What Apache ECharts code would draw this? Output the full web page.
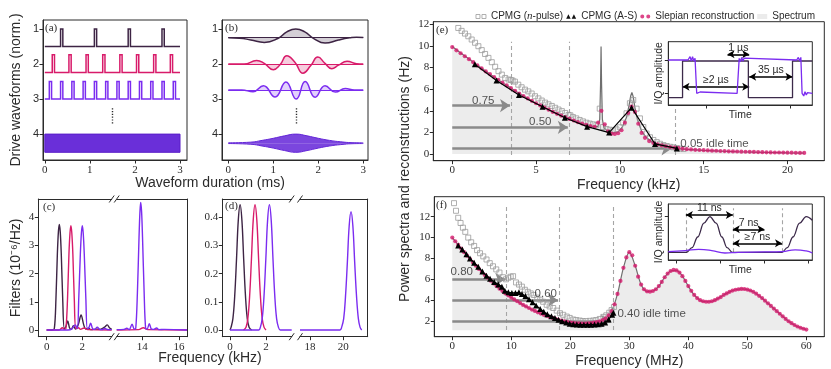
<!DOCTYPE html>
<html>
<head>
<meta charset="utf-8">
<script src="https://cdn.jsdelivr.net/npm/echarts@6/dist/echarts.min.js"></script>
<style>html,body{margin:0;padding:0;background:#fff}#chart{width:831px;height:369px}</style>
</head>
<body>
<div id="chart"></div>
<script>
// ---------- (a) drive pulse trains, times in ms ----------
var pulseTimes1 = [0.375, 1.125, 1.875, 2.625];
var pulseTimes2 = [0.19, 0.56, 0.94, 1.31, 1.69, 2.06, 2.44, 2.81];
var pulseTimes3 = [0.125, 0.375, 0.625, 0.875, 1.125, 1.375, 1.625, 1.875, 2.125, 2.375, 2.625, 2.875];
var pulseLevels = [[1.5, 1.0], [2.24, 1.73], [3.0, 2.5]]; // [base, top] per row
var denseBand = [4.0, 4.52];
var pulseWidth = 0.05;

// ---------- (b) slepian waveforms ----------
var slep1 = [[0,1.25],[0.25,1.26],[0.5,1.31],[0.8,1.38],[1.1,1.27],[1.3,1.08],[1.5,1.0],[1.7,1.08],[1.9,1.27],[2.15,1.4],[2.45,1.31],[2.7,1.25],[2.85,1.23],[3,1.24]];
var slep2 = [[0,2.0],[0.35,2.0],[0.63,1.9],[0.8,1.98],[1.0,2.16],[1.15,2.02],[1.3,1.76],[1.48,1.95],[1.66,2.26],[1.83,2.05],[1.99,1.8],[2.15,1.98],[2.3,2.13],[2.45,2.03],[2.64,1.92],[2.85,1.99],[3,2.0]];
var slep3 = [[0,2.74],[0.3,2.74],[0.55,2.79],[0.78,2.62],[1.04,2.94],[1.28,2.51],[1.51,3.0],[1.71,2.5],[1.93,2.95],[2.15,2.62],[2.38,2.8],[2.6,2.7],[2.8,2.74],[3,2.74]];
var slepBase = [1.24, 2.0, 2.74];
var slep4Upper = [[0,4.25],[0.5,4.23],[0.75,4.18],[1.0,4.12],[1.25,4.05],[1.5,4.0],[1.75,4.05],[2.0,4.12],[2.25,4.18],[2.5,4.22],[2.75,4.245],[3,4.25]];
var slep4Lower = [[0,4.27],[0.5,4.29],[0.75,4.34],[1.0,4.4],[1.25,4.47],[1.5,4.52],[1.75,4.47],[2.0,4.4],[2.25,4.34],[2.5,4.3],[2.75,4.275],[3,4.27]];
var slep4Base = 4.26;

// ---------- (c) CPMG filter functions (1e-6/Hz), kHz ----------
var cDark = [[0,0],[0.3,0],[0.43,0.05],[0.52,1.1],[0.6,2.7],[0.66,3.5],[0.71,3.75],[0.76,3.5],[0.82,2.7],[0.9,1.1],[0.99,0.05],[1.08,0.12],[1.18,0.32],[1.28,0.08],[1.38,0.02],[1.5,0.15],[1.62,0.03],[1.78,0.2],[1.93,0.53],[2.08,0.18],[2.2,0.03],[2.34,0.06],[2.5,0.01],[2.75,0.03],[3.0,0.02],[3.25,0.1],[3.4,0.18],[3.52,0.08],[3.65,0.02]];
var cCrimson = [[0,0],[0.7,0],[0.88,0.08],[1.0,0.02],[1.08,0.05],[1.17,1.1],[1.25,2.7],[1.31,3.45],[1.36,3.7],[1.41,3.45],[1.47,2.7],[1.55,1.1],[1.64,0.05],[1.78,0.08],[1.9,0.02],[2.1,0.07],[2.3,0.01],[3.65,0]];
var cPurple = [[0,0],[1.2,0],[1.4,0.03],[1.6,0.18],[1.72,0.05],[1.8,1.1],[1.89,2.7],[1.95,3.45],[2.0,3.7],[2.05,3.45],[2.11,2.7],[2.2,1.1],[2.28,0.05],[2.37,0.08],[2.47,0.24],[2.58,0.04],[2.7,0.02],[2.84,0.1],[2.97,0.02],[3.1,0.01],[3.27,0.05],[3.45,0.01],[3.65,0.01]];
var cCrimsonHi = [[12.6,0],[13.8,0.01],[14.05,0.08],[14.3,0.01],[16.44,0]];
var cPurpleHi = [[12.6,0.01],[13.0,0.02],[13.15,0.06],[13.28,0.01],[13.44,0.2],[13.56,0.03],[13.64,0.05],[13.73,1.3],[13.82,3.3],[13.87,4.2],[13.91,4.53],[13.96,4.2],[14.01,3.3],[14.1,1.3],[14.18,0.05],[14.26,0.03],[14.38,0.22],[14.5,0.03],[14.62,0.02],[14.78,0.07],[14.9,0.01],[15.2,0.02],[16.44,0]];

// ---------- (d) slepian filter functions ----------
var dDark = [[0,0],[0.06,0.01],[0.16,0.04],[0.26,0.12],[0.36,0.25],[0.46,0.39],[0.56,0.445],[0.66,0.39],[0.76,0.25],[0.86,0.12],[0.96,0.04],[1.06,0.01],[1.2,0]];
var dCrimson = [[0.75,0],[0.89,0.01],[0.99,0.04],[1.09,0.12],[1.19,0.25],[1.29,0.39],[1.39,0.445],[1.49,0.39],[1.59,0.25],[1.69,0.12],[1.79,0.04],[1.89,0.01],[2.0,0]];
var dPurple = [[0,0],[1.6,0],[1.69,0.01],[1.79,0.04],[1.89,0.12],[1.99,0.25],[2.09,0.39],[2.19,0.445],[2.29,0.39],[2.39,0.25],[2.49,0.12],[2.59,0.04],[2.69,0.01],[2.8,0],[3.43,0]];
var dPurpleHi = [[17.4,0],[19.8,0],[19.9,0.01],[20.02,0.04],[20.13,0.12],[20.24,0.24],[20.35,0.37],[20.46,0.42],[20.57,0.37],[20.68,0.24],[20.79,0.12],[20.9,0.04],[21.0,0.01],[21.1,0]];

// ---------- (e) kHz spectrum and reconstructions ----------
var eSpectrum = [[0,9.95],[0.5,9.35],[1,8.8],[1.5,8.22],[2,7.66],[2.5,7.13],[3,6.6],[3.5,6.1],[4,5.6],[4.5,5.15],[5,4.7],[5.5,4.3],[6,3.9],[6.5,3.55],[7,3.25],[7.5,2.95],[8,2.7],[8.4,2.55],[8.7,2.55],[8.8,3.2],[8.85,6.5],[8.88,9.95],[8.91,6.5],[8.96,3.2],[9.05,2.45],[9.3,2.05],[9.6,1.95],[9.9,2.05],[10.15,2.5],[10.4,3.4],[10.55,4.5],[10.65,5.4],[10.72,5.7],[10.8,5.3],[10.9,4.3],[11.05,3.2],[11.3,2.1],[11.6,1.5],[12,1.05],[12.5,0.8],[13,0.63],[13.5,0.5],[14,0.43],[15,0.33],[16,0.26],[17,0.21],[18,0.17],[19,0.14],[20,0.11],[21,0.09]];
var eRecon = [[0,9.9],[0.25,9.6],[0.5,9.33],[0.75,9.05],[1,8.78],[1.25,8.5],[1.5,8.2],[1.75,7.93],[2,7.65],[2.25,7.4],[2.5,7.13],[2.75,6.87],[3,6.6],[3.25,6.35],[3.5,6.1],[3.75,5.85],[4,5.6],[4.25,5.37],[4.5,5.15],[4.75,4.92],[5,4.7],[5.25,4.5],[5.5,4.3],[5.75,4.1],[6,3.9],[6.25,3.72],[6.5,3.55],[6.75,3.4],[7,3.25],[7.25,3.1],[7.5,2.95],[7.75,2.82],[8,2.7],[8.25,2.58],[8.5,2.52],[8.7,2.9],[8.9,4.0],[9.1,2.75],[9.3,2.1],[9.5,1.88],[9.7,1.85],[9.9,1.92],[10.1,2.2],[10.3,2.9],[10.5,3.8],[10.7,4.38],[10.9,3.9],[11.1,2.8],[11.3,1.95],[11.5,1.5],[11.75,1.2],[12,1.02],[12.25,0.9],[12.5,0.8],[12.75,0.72],[13,0.65],[13.25,0.59],[13.5,0.54],[13.75,0.49],[14,0.45],[14.25,0.42],[14.5,0.39],[14.75,0.37],[15,0.35],[15.25,0.33],[15.5,0.31],[15.75,0.3],[16,0.28],[16.25,0.27],[16.5,0.25],[16.75,0.24],[17,0.23],[17.25,0.22],[17.5,0.21],[17.75,0.2],[18,0.19],[18.25,0.18],[18.5,0.17],[18.75,0.16],[19,0.15],[19.25,0.14],[19.5,0.14],[19.75,0.13],[20,0.12],[20.25,0.12],[20.5,0.11],[20.75,0.1],[21,0.1]];
var ePulseCpmg = [[0.36,11.67],[0.56,11.4],[0.76,11.15],[0.96,10.9],[1.16,10.6],[1.36,10.3],[1.56,9.98],[1.76,9.62],[1.96,9.26],[2.16,8.9],[2.36,8.5],[2.56,8.08],[2.76,7.67],[2.96,7.35],[3.16,7.04],[3.36,6.9],[3.5,6.85],[3.6,6.8],[3.74,6.7],[3.94,6.42],[4.14,6.18],[4.34,5.96],[4.54,5.8],[4.74,5.6],[4.94,5.35],[5.14,5.15],[5.34,4.95],[5.54,4.76],[5.74,4.6],[5.94,4.45],[6.14,4.28],[6.34,4.12],[6.54,3.97],[6.74,3.8],[6.94,3.62],[7.05,3.58],[7.2,3.42],[7.4,3.3],[7.6,3.15],[7.8,3.02],[8.0,2.9],[8.2,2.82],[8.4,2.75],[8.6,2.67],[8.8,4.2],[9.0,2.5],[9.2,2.32],[9.4,2.25],[9.6,2.2],[9.8,2.28],[10.0,2.47],[10.2,2.9],[10.4,3.77],[10.6,4.7],[10.8,5.0],[11.0,4.2],[11.2,3.3],[11.4,2.5],[11.6,1.9],[11.8,1.55],[12.0,1.3],[12.2,1.1],[12.4,0.95],[12.6,0.83],[12.8,0.74],[13.0,0.67],[13.2,0.62],[13.4,0.55],[13.6,0.5],[13.8,0.46]];
var eAsCpmg = [[1.35,8.3],[2.64,6.8],[3.98,5.46],[5.39,4.38],[6.72,3.36],[8.05,2.53],[9.36,1.98],[10.7,4.29],[12.1,0.93],[13.4,0.52]];
var eIdleArrows = [[4.48, 3.5], [2.47, 7.0], [0.49, 13.28]];   // [level, end]
var eCuts = [[3.5, -0.1, 10.4], [7.0, -0.1, 10.4], [13.28, -0.1, 4.5]];
var eIdleText = [['0.75', 1.85, 4.95], ['0.50', 5.25, 3.0], ['0.05 idle time', 13.58, 0.93]];

// ---------- (f) MHz spectrum and reconstructions ----------
var fSpectrum = [[0,10.0],[1,9.3],[2,8.6],[3,7.95],[4,7.3],[5,6.7],[6,6.15],[7,5.6],[8,5.1],[9,4.65],[10,4.25],[11,3.9],[12,3.55],[13,3.25],[14,2.97],[15,2.72],[16,2.5],[17,2.3],[18,2.12],[19,1.97],[20,1.86],[21,1.79],[22,1.76],[23,1.77],[24,1.84],[25,1.98],[26,2.27],[27,2.95],[28,4.6],[29,7.1],[30,8.6],[31,7.3],[32,5.5],[33,4.85],[34,4.88],[35,5.35],[36,6.2],[37,6.8],[38,6.85],[39,6.3],[40,5.35],[41,4.5],[42,4.0],[43,3.85],[44,3.9],[45,4.15],[46,4.5],[47,4.8],[48,5.0],[49,5.08],[50,5.02],[51,4.8],[52,4.42],[53,3.95],[54,3.45],[55,2.95],[56,2.45],[57,1.98],[58,1.62],[59,1.36],[60,1.18]];
var fRecon = [[0,10.0],[0.5,9.65],[1,9.3],[1.5,8.95],[2,8.6],[2.5,8.27],[3,7.95],[3.5,7.62],[4,7.3],[4.5,7.0],[5,6.7],[5.5,6.42],[6,6.15],[6.5,5.87],[7,5.6],[7.5,5.35],[8,5.1],[8.5,4.87],[9,4.65],[9.5,4.45],[10,4.25],[10.5,4.07],[11,3.9],[11.5,3.72],[12,3.55],[12.5,3.4],[13,3.25],[13.5,3.1],[14,2.97],[14.5,2.84],[15,2.72],[15.5,2.6],[16,2.5],[16.5,2.4],[17,2.3],[17.5,2.21],[18,2.12],[18.5,2.04],[19,1.97],[19.5,1.91],[20,1.86],[20.5,1.82],[21,1.79],[21.5,1.77],[22,1.76],[22.5,1.76],[23,1.77],[23.5,1.8],[24,1.84],[24.5,1.9],[25,1.98],[25.5,2.1],[26,2.27],[26.5,2.55],[27,2.95],[27.5,3.6],[28,4.6],[28.5,5.85],[29,7.1],[29.5,8.1],[30,8.6],[30.5,8.3],[31,7.3],[31.5,6.25],[32,5.5],[32.5,5.05],[33,4.85],[33.5,4.82],[34,4.88],[34.5,5.05],[35,5.35],[35.5,5.75],[36,6.2],[36.5,6.55],[37,6.8],[37.5,6.9],[38,6.85],[38.5,6.65],[39,6.3],[39.5,5.85],[40,5.35],[40.5,4.9],[41,4.5],[41.5,4.2],[42,4.0],[42.5,3.9],[43,3.85],[43.5,3.85],[44,3.9],[44.5,4.0],[45,4.15],[45.5,4.3],[46,4.5],[46.5,4.65],[47,4.8],[47.5,4.92],[48,5.0],[48.5,5.05],[49,5.08],[49.5,5.07],[50,5.02],[50.5,4.93],[51,4.8],[51.5,4.62],[52,4.42],[52.5,4.2],[53,3.95],[53.5,3.7],[54,3.45],[54.5,3.2],[55,2.95],[55.5,2.7],[56,2.45],[56.5,2.2],[57,1.98],[57.5,1.8],[58,1.62],[58.5,1.48],[59,1.36],[59.5,1.26],[60,1.18]];
var fPulseCpmg = [[0.29,13.3],[0.63,12.57],[1.0,11.9],[1.4,11.4],[1.8,10.95],[2.2,10.55],[2.7,10.0],[3.2,9.55],[3.7,9.2],[4.2,8.8],[4.7,8.5],[5.25,8.2],[5.8,7.9],[6.35,7.55],[6.9,7.25],[7.45,6.95],[8.0,6.65],[8.6,6.2],[9.1,6.0],[9.5,6.15],[9.9,6.25],[10.3,6.3],[10.8,5.7],[11.3,5.5],[11.8,5.3],[12.3,5.0],[12.8,4.8],[13.3,4.65],[13.8,4.5],[14.4,4.25],[14.9,4.05],[15.4,3.85],[16.0,3.56],[16.5,3.4],[17.1,3.25],[17.7,3.0],[18.25,2.75],[18.8,2.6],[19.4,2.43],[19.9,2.3],[20.5,2.15],[21.0,2.1],[21.6,2.05],[22.1,2.0],[22.7,2.0],[23.3,2.02],[23.9,2.05],[24.4,2.1],[25.0,2.2],[25.6,2.4],[26.1,2.55],[26.6,2.8],[27.0,3.05],[27.4,3.35]];
var fAsCpmg = [[1.0,9.25],[1.7,8.85],[2.4,8.4],[3.0,8.0],[3.7,7.6],[4.4,7.2],[5.1,6.75],[5.8,6.35],[6.4,6.05],[7.1,5.75],[7.8,5.5],[8.4,5.3],[8.9,4.9],[9.5,4.75],[10.1,4.7],[10.7,4.7],[11.3,4.75],[11.8,4.6],[12.4,4.4],[13.0,4.1],[13.6,3.8],[14.2,3.5],[14.9,3.15],[15.5,2.9],[16.1,2.65],[16.8,2.45],[17.4,2.3],[18.0,2.12],[18.6,1.98],[19.3,1.85],[19.9,1.75],[20.5,1.7],[21.1,1.67],[21.7,1.65],[22.3,1.65],[22.9,1.65],[23.5,1.65],[24.1,1.67],[24.7,1.7],[25.3,1.75],[25.9,1.85],[26.5,2.15],[27.1,2.6],[27.3,2.8]];
var fIdleArrows = [[6.0, 9.1], [4.0, 18.2], [2.0, 27.3]];
var fCuts = [[9.1, 1.14, 12.96], [18.2, 1.14, 12.96], [27.3, 1.14, 12.96]];
var fIdleText = [['0.80', 1.6, 6.7], ['0.60', 15.85, 4.65], ['0.40 idle time', 27.9, 2.67]];
var fFloor = 1.12;

// ---------- insets ----------
var eInDark = [[0.078,-0.13],[0.42,-0.13],[0.42,0.97],[2.0,0.97],[2.0,-0.13],[3.06,-0.13],[3.06,0.97],[3.535,0.97]];
var eInPurple = [[0.078,1.0],[0.55,1.0],[0.6,1.1],[0.63,0.97],[0.66,1.1],[0.69,0.97],[0.72,1.05],[0.76,0.0],[0.8,-0.06],[0.84,0.04],[0.88,0.0],[1.73,0.0],[1.78,1.05],[1.81,0.95],[1.84,1.08],[1.87,0.97],[1.9,1.06],[1.94,1.0],[3.16,1.0],[3.2,1.08],[3.23,0.97],[3.26,1.08],[3.29,0.0],[3.33,-0.08],[3.36,0.05],[3.39,-0.05],[3.42,0.02],[3.535,0.0]];
var eInBoxes = [[0.42,0.92],[1.5,2.0],[3.04,3.535]];
var eInArrows = [['1 µs', 1.5, 2.02, 1.17], ['35 µs', 2.02, 3.06, 0.5], ['≥2 µs', 0.42, 2.02, 0.2]];
var fInDark = [[0.81,0],[1.227,0],[1.35,0.13],[1.48,0.43],[1.62,0.82],[1.757,1.0],[1.9,0.82],[2.03,0.43],[2.15,0.13],[2.27,0],[3.4,0],[3.52,0.13],[3.65,0.43],[3.8,0.82],[3.95,1.0],[4.09,0.9]];
var fInPurple = [[0.81,0.02],[1.2,0.05],[1.5,0.08],[1.8,0.05],[2.1,-0.02],[2.4,0.0],[3.0,0.01],[3.4,0.02],[3.7,0.07],[3.95,0.04],[4.09,-0.02]];
var fInCuts = [1.21, 2.28, 3.4];
var fInBox = [2.28, 3.0];
var fInArrows = [['11 ns', 1.21, 2.28, 1.05], ['7 ns', 2.28, 3.0, 0.646], ['≥7 ns', 2.28, 3.4, 0.253]];

// ---------- styling ----------
var SERIF = 'Liberation Serif, DejaVu Serif, serif';
var SANS = 'Liberation Sans, Arial, sans-serif';
var INK = '#2b2b2b';
var DARK = '#3d2444', CRIM = '#d81b6a', PURP = '#7b2cf0', DEEP = '#6426d8';
var DOT = '#d4186c', GRAYLINE = '#6f6f6f';

function axis(gi, min, max, ticks, o) {
  o = o || {};
  var a = {
    type: 'value', gridIndex: gi, min: min, max: max, inverse: !!o.inverse,
    axisLine: { show: o.line !== false, onZero: false, lineStyle: { color: INK, width: 1 } },
    axisTick: { show: !!ticks, customValues: ticks || [], length: 3.5, lineStyle: { color: INK, width: 1 } },
    axisLabel: { show: !!ticks && o.labels !== false, customValues: ticks || [], fontFamily: o.labelFont || SERIF,
      fontSize: 11, color: INK, margin: o.margin || 4 },
    splitLine: { show: false }
  };
  if (o.position) a.position = o.position;
  if (o.fmt) a.axisLabel.formatter = o.fmt;
  if (o.name) {
    a.name = o.name; a.nameLocation = 'middle'; a.nameGap = o.nameGap;
    a.nameTextStyle = { fontFamily: SANS, fontSize: o.nameSize || 14, color: INK };
  }
  return a;
}
function frame(l, t, w, h, extra) {
  return Object.assign({ left: l, top: t, width: w, height: h, show: true, borderColor: INK, borderWidth: 1 }, extra || {});
}
function line(gi, data, color, extra) {
  return Object.assign({ type: 'line', xAxisIndex: gi, yAxisIndex: gi, data: data, symbol: 'none', silent: true,
    lineStyle: { color: color, width: 1.4 }, itemStyle: { color: color }, emphasis: { disabled: true } }, extra || {});
}
function seg(x1, y1, x2, y2) { return [{ coord: [x1, y1] }, { coord: [x2, y2] }]; }
function marks(gi, lines, style, extra) {
  return Object.assign({ type: 'line', xAxisIndex: gi, yAxisIndex: gi, data: [], silent: true, clip: false,
    markLine: { silent: true, symbol: 'none', label: { show: false }, lineStyle: style, data: lines, emphasis: { disabled: true } } }, extra || {});
}
function pulseTrain(times, base, top) {
  var pts = [[0, base]];
  times.forEach(function (t) {
    pts.push([t - pulseWidth / 2, base], [t - pulseWidth / 2, top], [t + pulseWidth / 2, top], [t + pulseWidth / 2, base]);
  });
  pts.push([3, base]);
  return pts;
}
function textSeries(gi, items) {
  return { type: 'scatter', xAxisIndex: gi, yAxisIndex: gi, silent: true, symbolSize: 1, z: 20, zlevel: 1,
    itemStyle: { color: 'rgba(0,0,0,0)' },
    data: items.map(function (it) {
      var left = it[0].indexOf('idle') >= 0;
      return { value: [it[1], it[2]], name: it[0],
        label: { show: true, formatter: '{b}', position: left ? 'right' : 'inside', distance: 0, fontFamily: SANS, fontSize: 11.5, color: INK } };
    }) };
}
function idleArrows(gi, arrows) {
  return { type: 'line', xAxisIndex: gi, yAxisIndex: gi, data: [], silent: true, clip: false, z: 4,
    markLine: { silent: true, symbol: ['none', 'arrow'], symbolSize: 10, label: { show: false },
      lineStyle: { color: '#8a8a8a', width: 2.6, type: 'solid' },
      data: arrows.map(function (a) { return seg(0, a[0], a[1] - 0.015 * a[1], a[0]); }) } };
}
function insetArrows(gi, arrows) {
  return { type: 'line', xAxisIndex: gi, yAxisIndex: gi, data: [], silent: true, clip: false, z: 9,
    markLine: { silent: true, symbol: ['arrow', 'arrow'], symbolSize: [6, 7],
      lineStyle: { color: '#000', width: 1.6, type: 'solid' },
      label: { show: true, position: 'insideMiddleTop', distance: 1, formatter: '{b}', fontFamily: SANS, fontSize: 10.5, color: INK },
      data: arrows.map(function (a) { return [{ coord: [a[1], a[3]], name: a[0] }, { coord: [a[2], a[3]] }]; }) } };
}

var grids = [
  frame(43, 20, 144, 140),          // 0 a
  frame(222, 20, 146, 140),         // 1 b
  frame(38.3, 199, 73.4, 137.7, { show: false }), // 2 c left
  frame(116.7, 199, 70.3, 137.7, { show: false }),// 3 c right
  frame(222.3, 199, 69.4, 137.7, { show: false }),// 4 d left
  frame(300, 199, 67.7, 137.7, { show: false }),  // 5 d right
  frame(433.3, 21.7, 391, 139),     // 6 e
  frame(434.3, 196.7, 390, 140),    // 7 f
  frame(668.3, 41.7, 144, 63.3, { backgroundColor: '#fff', z: 5 }), // 8 e inset
  frame(668.3, 204, 144, 56, { backgroundColor: '#fff', z: 5 })     // 9 f inset
];

var xAxes = [
  axis(0, -0.04, 3.155, [0, 1, 2, 3], { margin: 5 }),
  axis(1, -0.14, 3.105, [0, 1, 2, 3], { margin: 5 }),
  axis(2, -0.47, 3.65, [0, 2], { margin: 5 }),
  axis(3, 12.6, 16.44, [14, 16], { margin: 5 }),
  axis(4, -0.43, 3.43, [0, 2], { margin: 5 }),
  axis(5, 17.4, 21.46, [18, 20], { margin: 5 }),
  axis(6, -1.13, 22.2, [0, 5, 10, 15, 20], { name: 'Frequency (kHz)', nameGap: 17 }),
  axis(7, -3.05, 63.05, [0, 10, 20, 30, 40, 50, 60], { name: 'Frequency (MHz)', nameGap: 17 }),
  axis(8, 0.078, 3.535, [1, 2, 3], { labels: false, name: 'Time', nameGap: 5, nameSize: 10.5 }),
  axis(9, 0.81, 4.09, [1, 2, 3, 4], { labels: false, name: 'Time', nameGap: 5, nameSize: 10.5 }),
  axis(2, -0.47, 3.65, null, { position: 'top' }),
  axis(3, 12.6, 16.44, null, { position: 'top' }),
  axis(4, -0.43, 3.43, null, { position: 'top' }),
  axis(5, 17.4, 21.46, null, { position: 'top' })
];
xAxes[8].z = 6; xAxes[9].z = 6;

var yAxes = [
  axis(0, 0.74, 4.74, [1, 2, 3, 4], { inverse: true, labelFont: SANS, name: 'Drive waveforms (norm.)', nameGap: 20 }),
  axis(1, 0.74, 4.74, [1, 2, 3, 4], { inverse: true, labelFont: SANS }),
  axis(2, -0.24, 4.65, [0, 1, 2, 3, 4], { name: 'Filters (10⁻⁶/Hz)', nameGap: 15 }),
  axis(3, -0.24, 4.65, null, { line: false }),
  axis(4, -0.024, 0.465, [0, 0.1, 0.2, 0.3, 0.4], { fmt: function (v) { return v.toFixed(1); } }),
  axis(5, -0.024, 0.465, null, { line: false }),
  axis(6, -0.62, 12.25, [0, 2, 4, 6, 8, 10, 12]),
  axis(7, 0.5, 13.92, [2, 4, 6, 8, 10, 12]),
  axis(8, -0.35, 1.55, [0, 1], { labels: false, name: 'I/Q amplitude', nameGap: 4, nameSize: 10.5 }),
  axis(9, -0.216, 1.357, [1], { labels: false, name: 'I/Q amplitude', nameGap: 4, nameSize: 10.5 }),
  axis(3, -0.24, 4.65, null, { position: 'right' }),
  axis(5, -0.024, 0.465, null, { position: 'right' })
];
yAxes[8].z = 6; yAxes[9].z = 6;

var series = [];

// (a)
[pulseTimes1, pulseTimes2, pulseTimes3].forEach(function (times, i) {
  var c = [DARK, CRIM, PURP][i];
  series.push(line(0, pulseTrain(times, pulseLevels[i][0], pulseLevels[i][1]), c, { lineStyle: { color: c, width: 1.5, join: 'miter' } }));
});
series.push(marks(0, [], {}, { markArea: { silent: true, itemStyle: { color: '#6a2fd9', borderColor: '#5a1ec8', borderWidth: 1 },
  data: [[{ coord: [0, denseBand[0]] }, { coord: [3, denseBand[1]] }]] } }));
series.push(marks(0, [seg(1.5, 3.26, 1.5, 3.73)], { color: INK, width: 1.4, type: [1.2, 1.6] }));

// (b)
[slep1, slep2, slep3].forEach(function (d, i) {
  var c = [DARK, CRIM, PURP][i];
  series.push(line(1, d, c, { smooth: 0.5, lineStyle: { color: c, width: 1.5 },
    areaStyle: { origin: slepBase[i], color: c, opacity: 0.22 } }));
  series.push(marks(1, [seg(0, slepBase[i], 3, slepBase[i])], { color: c, width: 1.2, type: 'solid' }));
});
[slep4Upper, slep4Lower].forEach(function (d) {
  series.push(line(1, d, DEEP, { smooth: 0.5, lineStyle: { color: DEEP, width: 1 },
    areaStyle: { origin: slep4Base, color: DEEP, opacity: 0.85 } }));
});
series.push(marks(1, [seg(1.5, 3.26, 1.5, 3.73)], { color: INK, width: 1.4, type: [1.2, 1.6] }));

// (c)
series.push(line(2, cDark, DARK, { smooth: 0.35 }));
series.push(line(2, cCrimson, CRIM, { smooth: 0.35 }));
series.push(line(2, cPurple, PURP, { smooth: 0.35 }));
series.push(line(3, cCrimsonHi, CRIM, { smooth: 0.35 }));
series.push(line(3, cPurpleHi, PURP, { smooth: 0.35 }));
series.push(marks(2, [seg(2.95, 2, 4.45, 2)], { color: INK, width: 1.2, type: [1, 1.6] }));

// (d)
series.push(line(4, dDark, DARK, { smooth: 0.4 }));
series.push(line(4, dCrimson, CRIM, { smooth: 0.4 }));
series.push(line(4, dPurple, PURP, { smooth: 0.4 }));
series.push(line(5, dPurpleHi, PURP, { smooth: 0.4 }));
series.push(marks(5, [seg(16.9, 0.2, 18.96, 0.2)], { color: INK, width: 1.2, type: [1, 1.6] }));

// (e)
series.push(line(6, eSpectrum, GRAYLINE, { name: 'Spectrum', lineStyle: { color: GRAYLINE, width: 1.2 },
  areaStyle: { color: '#ececec', opacity: 1 }, itemStyle: { color: '#ececec' } }));
series.push(marks(6, eCuts.map(function (c) { return seg(c[0], c[1], c[0], c[2]); }), { color: '#a5a5a5', width: 1.1, type: [4, 3] }));
series.push(idleArrows(6, eIdleArrows));
series.push({ type: 'scatter', name: 'CPMG (n-pulse)', xAxisIndex: 6, yAxisIndex: 6, data: ePulseCpmg, symbol: 'rect', symbolSize: 5,
  silent: true, itemStyle: { color: 'rgba(255,255,255,0)', borderColor: '#9c9c9c', borderWidth: 1 }, z: 5 });
series.push({ type: 'scatter', name: 'Slepian reconstruction', xAxisIndex: 6, yAxisIndex: 6, data: eRecon, symbol: 'circle', symbolSize: 4.2,
  silent: true, itemStyle: { color: DOT }, z: 6 });
series.push(line(6, eAsCpmg, '#000', { name: 'CPMG (A-S)', symbol: 'triangle', symbolSize: 6, showAllSymbol: true,
  lineStyle: { color: '#000', width: 1.2 }, z: 7 }));
series.push(textSeries(6, eIdleText));

// (f)
series.push(line(7, fSpectrum, GRAYLINE, { name: 'Spectrum', smooth: 0.3, lineStyle: { color: GRAYLINE, width: 1.2 },
  areaStyle: { color: '#ececec', opacity: 1, origin: fFloor }, itemStyle: { color: '#ececec' } }));
series.push(marks(7, fCuts.map(function (c) { return seg(c[0], c[1], c[0], c[2]); }), { color: '#a5a5a5', width: 1.1, type: [4, 3] }));
series.push(idleArrows(7, fIdleArrows));
series.push({ type: 'scatter', name: 'CPMG (n-pulse)', xAxisIndex: 7, yAxisIndex: 7, data: fPulseCpmg, symbol: 'rect', symbolSize: 5,
  silent: true, itemStyle: { color: 'rgba(255,255,255,0)', borderColor: '#9c9c9c', borderWidth: 1 }, z: 5 });
series.push({ type: 'scatter', name: 'Slepian reconstruction', xAxisIndex: 7, yAxisIndex: 7, data: fRecon, symbol: 'circle', symbolSize: 4.2,
  silent: true, itemStyle: { color: DOT }, z: 6 });
series.push(line(7, fAsCpmg, '#000', { name: 'CPMG (A-S)', symbol: 'triangle', symbolSize: 6, showAllSymbol: true,
  lineStyle: { color: '#000', width: 1.2 }, z: 7 }));
series.push(textSeries(7, fIdleText));

// (e) inset
series.push(marks(8, [], {}, { z: 7, markArea: { silent: true, itemStyle: { color: 'rgba(205,200,212,0.7)' },
  data: eInBoxes.map(function (b) { return [{ coord: [b[0], -0.15] }, { coord: [b[1], 1.15] }]; }) } }));
series.push(line(8, eInDark, '#3c2a4a', { z: 8, lineStyle: { color: '#3c2a4a', width: 1.3 } }));
series.push(line(8, eInPurple, PURP, { z: 8, lineStyle: { color: PURP, width: 1.3 } }));
series.push(insetArrows(8, eInArrows));

// (f) inset
series.push(marks(9, fInCuts.map(function (x) { return seg(x, 0, x, 1.236); }), { color: '#a5a5a5', width: 1.1, type: [4, 3] },
  { z: 7, markArea: { silent: true, itemStyle: { color: 'rgba(205,200,212,0.7)' },
    data: [[{ coord: [fInBox[0], 0] }, { coord: [fInBox[1], 1.0] }]] } }));
series.push(line(9, fInDark, '#3c2a4a', { z: 8, smooth: 0.4, smoothMonotone: 'x', lineStyle: { color: '#3c2a4a', width: 1.3 } }));
series.push(line(9, fInPurple, PURP, { z: 8, smooth: 0.5, lineStyle: { color: PURP, width: 1.3 } }));
series.push(insetArrows(9, fInArrows));

function label(text, x, y, font) {
  return { type: 'text', x: x, y: y, silent: true, style: { text: text, font: font, fill: INK, align: 'left', verticalAlign: 'top' } };
}
function slash(x, y) {
  return { type: 'line', silent: true, shape: { x1: x - 2.5, y1: y + 3.5, x2: x + 2.5, y2: y - 3.5 }, style: { stroke: INK, lineWidth: 1 } };
}
var panelFont = '11px ' + SERIF;
var graphic = [
  label('(a)', 45, 23, panelFont), label('(b)', 225, 23, panelFont), label('(c)', 43, 202, panelFont),
  label('(d)', 225, 201, panelFont), label('(e)', 436, 25, panelFont), label('(f)', 436, 200, panelFont),
  { type: 'text', x: 210, y: 183, silent: true, style: { text: 'Waveform duration (ms)', font: '14px ' + SANS, fill: INK, align: 'center', verticalAlign: 'middle' } },
  { type: 'text', x: 210, y: 358, silent: true, style: { text: 'Frequency (kHz)', font: '14px ' + SANS, fill: INK, align: 'center', verticalAlign: 'middle' } },
  { type: 'text', x: 405, y: 179, rotation: Math.PI / 2, silent: true, style: { text: 'Power spectra and reconstructions (Hz)', font: '14px ' + SANS, fill: INK, align: 'center', verticalAlign: 'middle' } },
  slash(111.7, 199), slash(116.7, 199), slash(111.7, 336.7), slash(116.7, 336.7),
  slash(291.7, 199), slash(300, 199), slash(291.7, 336.7), slash(300, 336.7)
];

var option = {
  animation: false,
  backgroundColor: '#fff',
  legend: {
    top: 6, right: 11, itemWidth: 10, itemHeight: 5, itemGap: 3,
    textStyle: { fontFamily: SANS, fontSize: 10, color: INK, rich: { it: { fontStyle: 'italic', fontFamily: SERIF, fontSize: 11, color: INK } } },
    formatter: function (n) { return n === 'CPMG (n-pulse)' ? 'CPMG ({it|n}-pulse)' : n; },
    data: [
      { name: 'CPMG (n-pulse)', icon: 'path://M0,0H8V8H0Z M12,0H20V8H12Z', itemStyle: { color: '#fff', borderColor: '#9c9c9c', borderWidth: 1 } },
      { name: 'CPMG (A-S)', icon: 'path://M0,9L4.5,0L9,9Z M11,9L15.5,0L20,9Z', itemStyle: { color: '#111' } },
      { name: 'Slepian reconstruction', icon: 'path://M0,4a4,4 0 1,0 8,0a4,4 0 1,0 -8,0Z M12,4a4,4 0 1,0 8,0a4,4 0 1,0 -8,0Z', itemStyle: { color: DOT } },
      { name: 'Spectrum', icon: 'rect', itemStyle: { color: '#ebebeb' } }
    ]
  },
  grid: grids,
  xAxis: xAxes,
  yAxis: yAxes,
  series: series,
  graphic: graphic
};

var chart = echarts.init(document.getElementById('chart'), null, { renderer: 'canvas' });
chart.setOption(option);
</script>
</body>
</html>
